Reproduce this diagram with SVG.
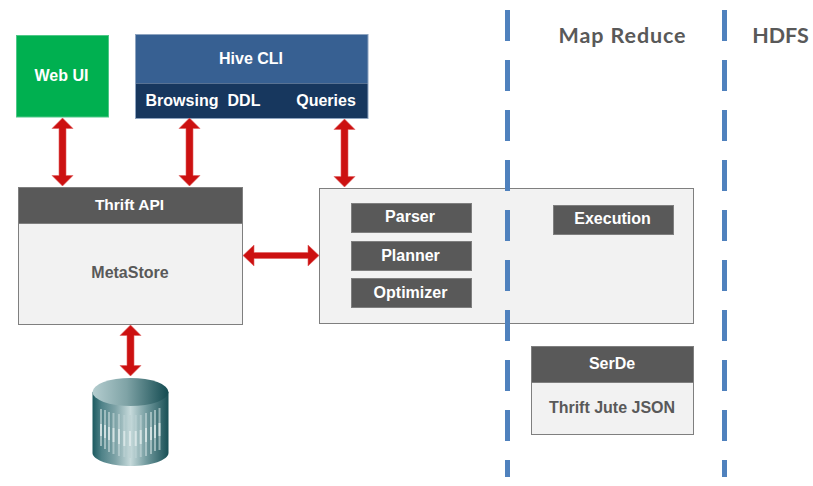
<svg xmlns="http://www.w3.org/2000/svg" width="813" height="486" viewBox="0 0 813 486">
<style>
text{font-family:"Liberation Sans",Arial,sans-serif;font-weight:700;font-size:16px;text-anchor:middle}
.w{fill:#fff}
.g{fill:#595959}
.h{font-family:Lato,"Open Sans",sans-serif;font-size:21.500px;fill:#595959}
.dark{fill:#595959;stroke:#7f7f7f;stroke-width:1}
.light{fill:#f2f2f2;stroke:#7f7f7f;stroke-width:1}
.dash{fill:none;stroke:#4f81bd;stroke-width:5;stroke-dasharray:31 19}
.arrow{fill:#cc1111;stroke:#e06060;stroke-width:.6}
</style>
<defs>
<linearGradient id="cylSide" x1="0" x2="1" y1="0" y2="0">
<stop offset="0" stop-color="#1c5a60"/><stop offset=".12" stop-color="#4f8288"/><stop offset=".3" stop-color="#7ea3a7"/><stop offset=".5" stop-color="#c6dadb"/><stop offset=".72" stop-color="#6f989c"/><stop offset="1" stop-color="#184f55"/>
</linearGradient>
<linearGradient id="cylTop" x1="0" x2="1" y1="0" y2="0">
<stop offset="0" stop-color="#b4cdcf"/><stop offset=".45" stop-color="#7fa3a6"/><stop offset="1" stop-color="#134b51"/>
</linearGradient>
</defs>
<g id="web-ui"><rect x="16.5" y="35.5" width="92" height="81.5" fill="#00b050" stroke="#4fc888"/><text class="w" x="61.500" y="81">Web UI</text></g>
<g id="hive-cli">
<rect x="135.500" y="34.500" width="232.500" height="49" fill="#376092"/>
<rect x="135.500" y="83.500" width="232.500" height="35" fill="#17375e"/>
<rect x="135.500" y="34.500" width="232.500" height="84" fill="none" stroke="#8ea4c0"/>
<text class="w" x="251" y="64">Hive CLI</text>
<text class="w" x="182" y="106">Browsing</text>
<text class="w" x="244" y="106">DDL</text>
<text class="w" x="326" y="106">Queries</text>
</g>
<g id="metastore">
<rect class="light" x="18.500" y="187.500" width="224" height="137"/>
<rect class="dark" x="18.500" y="187.500" width="224" height="36"/>
<text class="w" x="129.500" y="210" style="font-size:15.500px">Thrift API</text>
<text class="g" x="130" y="278">MetaStore</text>
</g>
<g id="driver"><rect class="light" x="319.500" y="188.500" width="374" height="135"/></g>
<g id="parser"><rect class="dark" x="351.500" y="203.500" width="120" height="29"/><text class="w" x="410" y="222">Parser</text></g>
<g id="planner"><rect class="dark" x="351.500" y="241.500" width="120" height="29"/><text class="w" x="410.500" y="261">Planner</text></g>
<g id="optimizer"><rect class="dark" x="351.500" y="278.500" width="120" height="29"/><text class="w" x="410.500" y="298">Optimizer</text></g>
<g id="execution"><rect class="dark" x="553.500" y="205.500" width="120" height="29"/><text class="w" x="612.500" y="224">Execution</text></g>
<g id="serde">
<rect class="light" x="531.500" y="346.500" width="162" height="88"/>
<rect class="dark" x="531.500" y="346.500" width="162" height="36"/>
<text class="w" x="612" y="369">SerDe</text>
<text class="g" x="612" y="413">Thrift Jute JSON</text>
</g>
<g id="database">
<path d="M92.500 392V453C92.500 460 110 466 130.500 466S168.500 460 168.500 453V392Z" fill="url(#cylSide)"/>
<path d="M101 409V446M105 410V449M109 412V452M113.500 413V454M119 414V456M124.300 415V457M130 415V458M135.700 415V458M140.700 415V457M146 413V456M151 412V454M155 410V451M159.500 408V450" stroke="#bcd2d3" stroke-width="2" fill="none" opacity=".7"/>
<path d="M101 424V436M105 425V438M109 427V440M113.500 428V442M119 429V444M124.300 431V446M130 431V446M135.700 431V446M140.700 430V444M146 428V442M151 427V440M155 425V438M159.500 423V436" stroke="#e6f0f0" stroke-width="2" fill="none" opacity=".7"/>
<ellipse cx="130.500" cy="392" rx="38" ry="14" fill="url(#cylTop)"/>
</g>
<g id="connectors">
<path class="dash" d="M507.500 10V477"/>
<path class="dash" d="M724.500 10V477"/>
<g class="arrow">
<path d="M62.500 118l10.500 10.500h-7V175.500h7L62.500 186 52 175.500h7V128.500h-7Z"/>
<path d="M189.500 118l10.500 10.500h-7V175.500h7L189.500 186 179 175.500h7V128.500h-7Z"/>
<path d="M344.500 119l10.500 10.500h-7V176.500h7L344.500 187 334 176.500h7V129.500h-7Z"/>
<path d="M130.500 325l10.500 10.500h-7V365.500h7L130.500 376 120 365.500h7V335.500h-7Z"/>
<path d="M243 255.500l11-10.500v7.500h54v-7.500l11 10.500-11 10.500v-7.500h-54v7.500Z"/>
</g>
</g>
<g id="labels">
<text class="h" x="622.500" y="43" style="letter-spacing:.9px">Map Reduce</text>
<text class="h" x="780.500" y="43">HDFS</text>
</g>
</svg>
